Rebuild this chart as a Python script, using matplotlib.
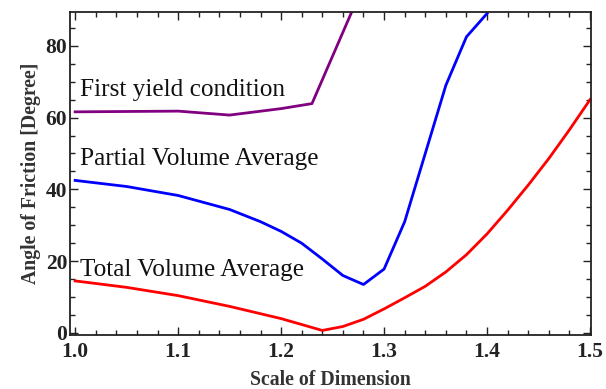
import numpy as np
import matplotlib
matplotlib.use("Agg")
import matplotlib.pyplot as plt
from matplotlib.ticker import MultipleLocator

yield_x = [1.0, 1.05, 1.1, 1.15, 1.2, 1.23, 1.28]
yield_y = [61.6, 61.7, 61.8, 60.7, 62.5, 63.9, 97.0]

partial_x = [1.0, 1.05, 1.1, 1.15, 1.18, 1.2, 1.22, 1.24, 1.26, 1.28, 1.30, 1.32, 1.34, 1.36, 1.38, 1.40]
partial_y = [42.5, 40.8, 38.3, 34.4, 31.0, 28.3, 25.0, 20.6, 16.0, 13.5, 17.8, 31.0, 50.0, 69.0, 82.5, 89.0]

total_x = [1.0, 1.05, 1.1, 1.15, 1.2, 1.24, 1.26, 1.28, 1.30, 1.32, 1.34, 1.36, 1.38, 1.40, 1.42, 1.44, 1.46, 1.48, 1.50]
total_y = [14.5, 12.7, 10.4, 7.4, 4.0, 0.7, 1.8, 3.8, 6.7, 9.8, 13.0, 17.0, 21.8, 27.6, 34.2, 41.2, 48.6, 56.6, 65.0]

labels = ["First yield condition", "Partial Volume Average", "Total Volume Average"]
label_y = [66.0, 46.8, 15.9]

serif = "Liberation Serif"

fig = plt.figure(figsize=(6.06, 3.89), dpi=100)
ax = fig.add_axes([0.1155, 0.139, 0.859, 0.830])

ax.plot(yield_x, yield_y, color="#800080", lw=2.0)
ax.plot(partial_x, partial_y, color="#0000ff", lw=2.0)
ax.plot(total_x, total_y, color="#ff0000", lw=2.0)

for txt, yy in zip(labels, label_y):
    ax.text(1.005, yy, txt, family=serif, fontsize=18.2, va="baseline", ha="left", color="#111111")

ax.set_xlim(0.995, 1.5005)
ax.set_ylim(-0.55, 89.4)

ax.xaxis.set_major_locator(MultipleLocator(0.1))
ax.xaxis.set_minor_locator(MultipleLocator(0.02))
ax.yaxis.set_major_locator(MultipleLocator(20))
ax.yaxis.set_minor_locator(MultipleLocator(5))
ax.xaxis.set_major_formatter(matplotlib.ticker.FormatStrFormatter("%.1f"))

ax.tick_params(which="both", direction="in", top=True, right=True, width=1.0, color="#222222")
ax.tick_params(which="major", length=6)
ax.tick_params(which="minor", length=3.5)
ax.tick_params(axis="both", labelsize=15.5, labelcolor="#222222")
ax.tick_params(axis="x", pad=5)
ax.tick_params(axis="y", pad=2)
for lab in ax.get_xticklabels() + ax.get_yticklabels():
    lab.set_family(serif)
    lab.set_fontweight("bold")

for sp in ax.spines.values():
    sp.set_linewidth(1.3)
    sp.set_color("#222222")

ax.set_xlabel("Scale of Dimension", family=serif, fontweight="bold", fontsize=14.2, color="#333333", labelpad=6)
ax.set_ylabel("Angle of Friction [Degree]", family=serif, fontweight="bold", fontsize=14.2, color="#333333", labelpad=3)

fig.savefig("out.png", dpi=100)
